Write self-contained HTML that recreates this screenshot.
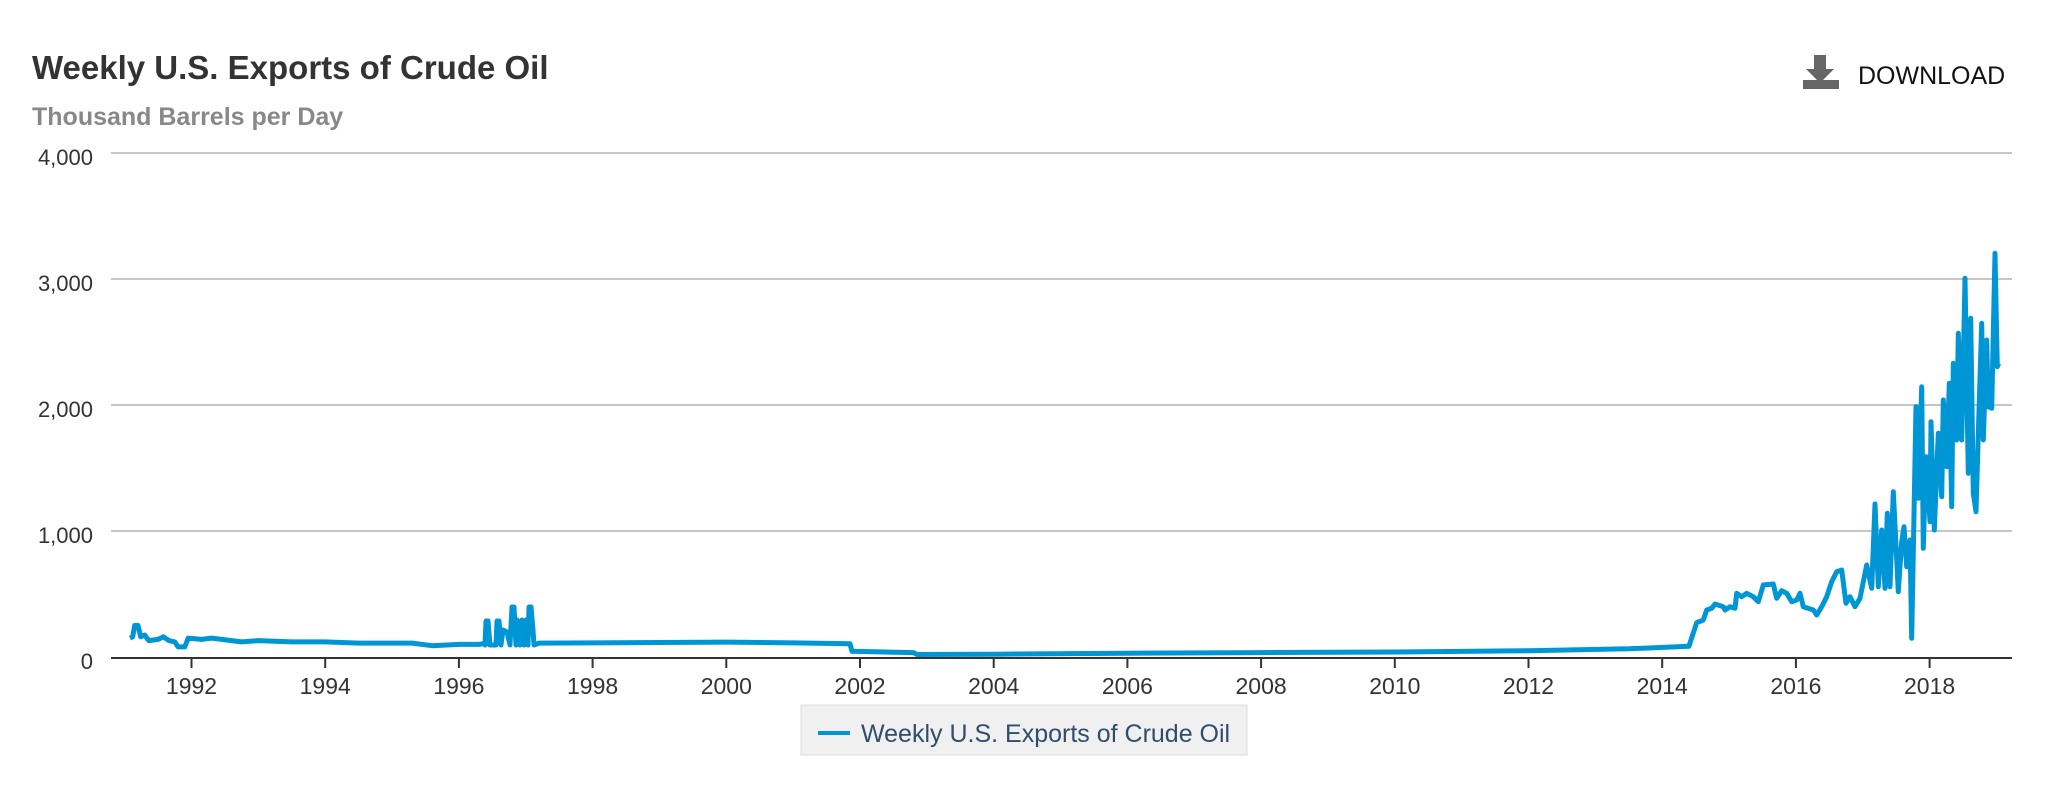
<!DOCTYPE html>
<html><head><meta charset="utf-8">
<style>
html,body{margin:0;padding:0;background:#fff;}
body{width:2048px;height:793px;overflow:hidden;position:relative;font-family:"Liberation Sans",Arial,sans-serif;}
</style></head>
<body>
<svg id="s" width="2048" height="793" viewBox="0 0 2048 793" xmlns="http://www.w3.org/2000/svg" style="position:absolute;left:0;top:0">
<text x="32" y="79" font-size="33" font-weight="bold" fill="#333">Weekly U.S. Exports of Crude Oil</text>
<text x="32" y="125" font-size="25" font-weight="bold" fill="#888">Thousand Barrels per Day</text>
<rect x="1814" y="55" width="12" height="16" fill="#666"/>
<polygon points="1806,69 1834,69 1820,83" fill="#666"/>
<rect x="1803" y="80" width="36" height="9" fill="#666"/>
<text x="1858" y="84" font-size="25" fill="#111">DOWNLOAD</text>
<g stroke="#c6c6c6" stroke-width="2">
<line x1="111" y1="153" x2="2012" y2="153"/>
<line x1="111" y1="279" x2="2012" y2="279"/>
<line x1="111" y1="405" x2="2012" y2="405"/>
<line x1="111" y1="531" x2="2012" y2="531"/>
</g>
<g font-size="22" fill="#333" text-anchor="end">
<text x="93" y="165">4,000</text>
<text x="93" y="291">3,000</text>
<text x="93" y="417">2,000</text>
<text x="93" y="543">1,000</text>
<text x="93" y="669">0</text>
</g>
<g id="ticks" stroke="#333" stroke-width="2"></g>
<g id="tl" font-size="23" fill="#333" text-anchor="middle"></g>
<path id="p" d="" fill="none" stroke="#0096d6" stroke-width="5" stroke-linejoin="round"/>
<line x1="111" y1="658" x2="2012" y2="658" stroke="#333" stroke-width="2"/>
<rect x="801" y="705" width="446" height="50" fill="#f0f0f0" stroke="#ddd" stroke-width="1"/>
<line x1="818" y1="733" x2="850" y2="733" stroke="#0096d6" stroke-width="4"/>
<text x="861" y="742" font-size="25" fill="#2f4d6d">Weekly U.S. Exports of Crude Oil</text>
</svg>
<script>
var X=function(t){return 860+(t-2002)*66.85;};
var Y=function(v){return 657-v*0.126;};
var ns="http://www.w3.org/2000/svg";
var tk=document.getElementById('ticks'),tl=document.getElementById('tl');
for(var yr=1992;yr<=2018;yr+=2){var x=X(yr);
var l=document.createElementNS(ns,'line');l.setAttribute('x1',x);l.setAttribute('x2',x);l.setAttribute('y1',658);l.setAttribute('y2',668);tk.appendChild(l);
var t=document.createElementNS(ns,'text');t.setAttribute('x',x);t.setAttribute('y',694);t.textContent=yr;tl.appendChild(t);}
var pts=[];
function a(t,v){pts.push([X(t),Y(v)]);}
var e=[[1991.08,150],[1991.12,160],[1991.15,250],[1991.2,250],[1991.24,160],[1991.3,175],[1991.36,130],[1991.5,140],[1991.58,160],[1991.66,130],[1991.75,120],[1991.8,80],[1991.9,80],[1991.95,150],[1992.15,140],[1992.3,150],[1992.6,130],[1992.75,120],[1993,130],[1993.5,120],[1994,120],[1994.5,110],[1995.3,110],[1995.6,90],[1996,100],[1996.3,100],[1996.42,110]];
e.forEach(function(p){a(p[0],p[1]);});
var sp=[[485,645],[486,621],[488,621],[490,645],[496,645],[497,621],[499,621],[501,645],[503,630],[507,632],[510,645],[512,607],[514,607],[516,645],[517,620],[520,645],[522,620],[524,645],[526,620],[528,645],[529,607],[531,607],[533,630],[534,645]];
sp.forEach(function(p){pts.push(p);});
var m=[[1997.2,110],[1998,112],[1999,115],[2000,118],[2001,112],[2001.85,105],[2001.88,45],[2002.8,35],[2002.85,20],[2004,22],[2006,30],[2008,35],[2010,40],[2012,50],[2013.5,65],[2014.4,85]];
m.forEach(function(p){a(p[0],p[1]);});
var z=[[290,1148],[310,1140],[320,1110],[335,1105],[345,1092],[370,1100],[375,1110],[390,1100],[405,1105],[410,1060],[425,1070],[440,1060],[460,1070],[475,1085],[490,1035],[520,1032],[530,1075],[545,1052],[560,1060],[575,1085],[590,1080],[600,1060],[610,1100],[640,1110],[650,1125],[665,1100],[680,1070],[695,1025],[710,995],[725,990],[738,1090],[750,1070],[765,1100],[780,1075],[800,975],[815,1045],[825,792],[835,1040],[845,870],[855,1045],[862,820],[870,1040],[880,755],[895,1055],[905,905],[912,860],[920,980],[930,900],[935,1195],[948,500],[955,775],[965,440],[970,925],[978,650],[990,845],[993,545],[1003,870],[1015,580],[1025,770],[1030,480],[1040,680],[1048,430],[1055,800],[1060,370],[1070,600],[1075,280],[1085,600],[1095,115],[1105,700],[1112,235],[1120,760],[1128,815],[1135,580],[1145,250],[1150,600],[1160,300],[1165,500],[1175,505],[1185,40],[1192,380],[1196,370]];
z.forEach(function(p){pts.push([1600+p[0]/3,240+p[1]/3]);});
document.getElementById('p').setAttribute('d','M'+pts.map(function(p){return p[0].toFixed(1)+','+p[1].toFixed(1);}).join('L'));
</script>
</body></html>
